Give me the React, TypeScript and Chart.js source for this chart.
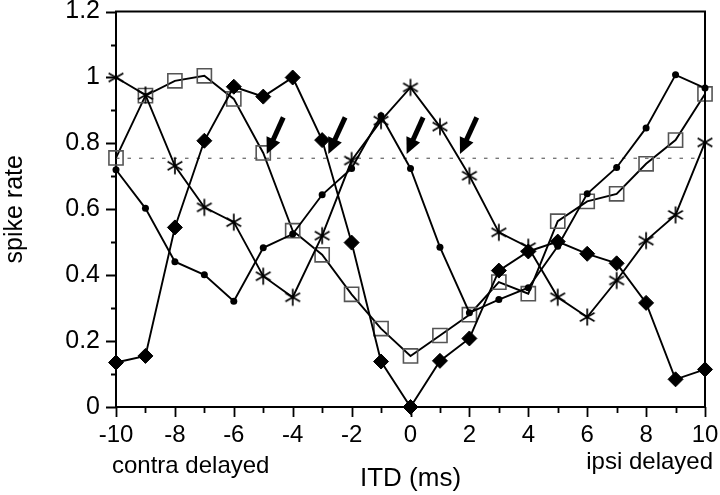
import React, { useEffect, useRef } from 'react';
import { Chart, registerables } from 'chart.js';

Chart.register(...registerables);

// ---- data ----
const itd = [-10, -9, -8, -7, -6, -5, -4, -3, -2, -1, 0, 1, 2, 3, 4, 5, 6, 7, 8, 9, 10];
const diamondRate = [0.135, 0.155, 0.545, 0.808, 0.972, 0.942, 1.0, 0.81, 0.499, 0.138, 0.0, 0.14, 0.208, 0.414, 0.472, 0.502, 0.465, 0.436, 0.316, 0.084, 0.114];
const circleRate = [0.72, 0.603, 0.441, 0.401, 0.321, 0.483, 0.525, 0.644, 0.724, 0.884, 0.724, 0.485, 0.286, 0.326, 0.362, 0.488, 0.647, 0.727, 0.847, 1.008, 0.968];
const squareRate = [0.756, 0.945, 0.99, 1.005, 0.935, 0.771, 0.535, 0.462, 0.342, 0.238, 0.155, 0.217, 0.28, 0.379, 0.344, 0.564, 0.624, 0.647, 0.738, 0.81, 0.95];
const starRate = [1.0, 0.947, 0.732, 0.606, 0.561, 0.397, 0.333, 0.52, 0.748, 0.869, 0.97, 0.851, 0.702, 0.53, 0.485, 0.333, 0.273, 0.384, 0.505, 0.583, 0.803];

const criterionX = [-10, 10];
const criterionY = [0.755, 0.755];

const arrowTipX = [-4.88, -2.79, -0.13, 1.68];
const arrowTailX = [-4.32, -2.22, 0.43, 2.25];
const arrowTipY = [0.768, 0.768, 0.768, 0.768];
const arrowTailY = [0.879, 0.879, 0.879, 0.879];

const xMin = -10;
const xMax = 10;
const yMin = 0;
const yMax = 1.2;
const xMinorTicks = itd;
const yMinorTicks = [0, 0.1, 0.2, 0.3, 0.4, 0.5, 0.6, 0.7, 0.8, 0.9, 1.0, 1.1, 1.2];

const yTitle = 'spike rate';
const xTitle = 'ITD (ms)';
const leftNote = 'contra delayed';
const rightNote = 'ipsi delayed';

const FONT = '"Liberation Sans", Arial, Helvetica, sans-serif';

function makeStar(): HTMLCanvasElement {
  const size = 20;
  const c = document.createElement('canvas');
  c.width = size;
  c.height = size;
  const g = c.getContext('2d')!;
  const r = 8.5;
  const cx = size / 2;
  const cy = size / 2;
  g.strokeStyle = '#000';
  g.lineWidth = 1.7;
  g.beginPath();
  for (const a of [90, 30, 150]) {
    const rad = (a * Math.PI) / 180;
    g.moveTo(cx - Math.cos(rad) * r, cy + Math.sin(rad) * r);
    g.lineTo(cx + Math.cos(rad) * r, cy - Math.sin(rad) * r);
  }
  g.stroke();
  return c;
}

const decorPlugin = {
  id: 'decor',
  afterDraw(chart: any) {
    const { ctx, chartArea, scales } = chart;
    const { left, right, top, bottom } = chartArea;
    const x = scales.x;
    const y = scales.y;
    ctx.save();
    // frame top and right
    ctx.strokeStyle = '#000';
    ctx.lineWidth = 2;
    ctx.beginPath();
    ctx.moveTo(left - 1, top);
    ctx.lineTo(right, top);
    ctx.lineTo(right, bottom + 1);
    ctx.stroke();

    // tick marks
    ctx.lineWidth = 1.8;
    ctx.beginPath();
    for (const v of xMinorTicks) {
      const px = Math.round(x.getPixelForValue(v)) + 0.5;
      const len = v % 2 === 0 ? 10 : 6;
      ctx.moveTo(px, bottom);
      ctx.lineTo(px, bottom + len);
    }
    for (const v of yMinorTicks) {
      const py = Math.round(y.getPixelForValue(v)) + 0.5;
      const len = Math.round(v * 10) % 2 === 0 ? 10 : 5;
      ctx.moveTo(left, py);
      ctx.lineTo(left - len, py);
    }
    ctx.stroke();

    // arrows
    ctx.fillStyle = '#000';
    for (let i = 0; i < arrowTipX.length; i++) {
      const tx = x.getPixelForValue(arrowTipX[i]);
      const ty = y.getPixelForValue(arrowTipY[i]);
      const sx = x.getPixelForValue(arrowTailX[i]);
      const sy = y.getPixelForValue(arrowTailY[i]);
      const dx = tx - sx;
      const dy = ty - sy;
      const len = Math.hypot(dx, dy);
      const ux = dx / len;
      const uy = dy / len;
      const head = 16;
      const hw = 7.5;
      const bx = tx - ux * head;
      const by = ty - uy * head;
      ctx.lineWidth = 5;
      ctx.lineCap = 'butt';
      ctx.beginPath();
      ctx.moveTo(sx, sy);
      ctx.lineTo(bx + ux * 2, by + uy * 2);
      ctx.stroke();
      ctx.beginPath();
      ctx.moveTo(tx, ty);
      ctx.lineTo(bx - uy * hw, by + ux * hw);
      ctx.lineTo(bx + uy * hw, by - ux * hw);
      ctx.closePath();
      ctx.fill();
    }

    // notes under axis
    ctx.fillStyle = '#000';
    ctx.font = `24px ${FONT}`;
    ctx.textBaseline = 'alphabetic';
    ctx.textAlign = 'left';
    ctx.fillText(leftNote, left - 4, bottom + 66);
    ctx.textAlign = 'right';
    ctx.fillText(rightNote, right + 8, bottom + 62);
    ctx.restore();
  },
};

export default function App() {
  const ref = useRef<HTMLCanvasElement | null>(null);
  useEffect(() => {
    document.body.style.margin = '0';
    const canvas = ref.current;
    if (!canvas) return;
    const star = makeStar();
    const pts = (ys: number[]) => itd.map((v, i) => ({ x: v, y: ys[i] }));
    const chart = new Chart(canvas, {
      type: 'scatter',
      data: {
        datasets: [
          {
            label: 'diamond',
            data: pts(diamondRate),
            showLine: true,
            borderColor: '#000',
            borderWidth: 1.9,
            pointStyle: 'rectRot',
            pointRadius: 7.5,
            pointBackgroundColor: '#000',
            pointBorderColor: '#000',
            pointBorderWidth: 1,
            clip: false,
          },
          {
            label: 'circle',
            data: pts(circleRate),
            showLine: true,
            borderColor: '#000',
            borderWidth: 1.9,
            pointStyle: 'circle',
            pointRadius: 3.5,
            pointBackgroundColor: '#000',
            pointBorderColor: '#000',
            pointBorderWidth: 0,
            clip: false,
          },
          {
            label: 'star',
            data: pts(starRate),
            showLine: true,
            borderColor: '#000',
            borderWidth: 1.9,
            pointStyle: star as any,
            pointRadius: 8,
            clip: false,
          },
          {
            label: 'square',
            data: pts(squareRate),
            showLine: true,
            borderColor: '#000',
            borderWidth: 1.9,
            pointStyle: 'rect',
            pointRadius: 10,
            pointBackgroundColor: 'rgba(0,0,0,0)',
            pointBorderColor: '#555',
            pointBorderWidth: 1.6,
            clip: false,
          },
          {
            label: 'criterion',
            data: criterionX.map((v, i) => ({ x: v, y: criterionY[i] })),
            showLine: true,
            borderColor: '#444',
            borderWidth: 1,
            borderDash: [3.5, 8],
            pointRadius: 0,
          },
        ],
      },
      options: {
        responsive: false,
        animation: false,
        events: [],
        layout: { padding: { top: 10, right: 15, left: 0, bottom: 0 } },
        plugins: { legend: { display: false }, tooltip: { enabled: false } },
        scales: {
          x: {
            type: 'linear',
            min: xMin,
            max: xMax,
            grid: { display: false, drawTicks: false },
            border: { display: true, color: '#000', width: 2 },
            ticks: {
              stepSize: 1,
              autoSkip: false,
              maxRotation: 0,
              padding: 14,
              color: '#000',
              font: { family: FONT, size: 24 },
              callback: (v: any) => (Math.round(v) % 2 === 0 ? String(Math.round(v)) : ''),
            },
            title: {
              display: true,
              text: xTitle,
              color: '#000',
              font: { family: FONT, size: 26 },
              padding: { top: 0, bottom: 1 },
            },
            afterFit: (s: any) => {
              s.height = 88;
              s.paddingLeft = 0;
              s.paddingRight = 0;
            },
          },
          y: {
            type: 'linear',
            min: yMin,
            max: yMax,
            grid: { display: false, drawTicks: false },
            border: { display: true, color: '#000', width: 2 },
            ticks: {
              stepSize: 0.1,
              autoSkip: false,
              padding: 16,
              color: '#000',
              font: { family: FONT, size: 25 },
              callback: (v: any) => {
                const r = Math.round(v * 10);
                return r % 2 === 0 ? String(r / 10) : '';
              },
            },
            title: {
              display: true,
              text: yTitle,
              color: '#000',
              font: { family: FONT, size: 25 },
              padding: { top: 0, bottom: 0 },
            },
            afterFit: (s: any) => {
              s.width = 116;
              s.paddingTop = 0;
              s.paddingBottom = 0;
            },
          },
        },
      },
      plugins: [decorPlugin],
    } as any);
    return () => chart.destroy();
  }, []);
  return (
    <div style={{ width: 720, height: 495, position: 'relative' }}>
      <canvas ref={ref} width={720} height={495} />
    </div>
  );
}
